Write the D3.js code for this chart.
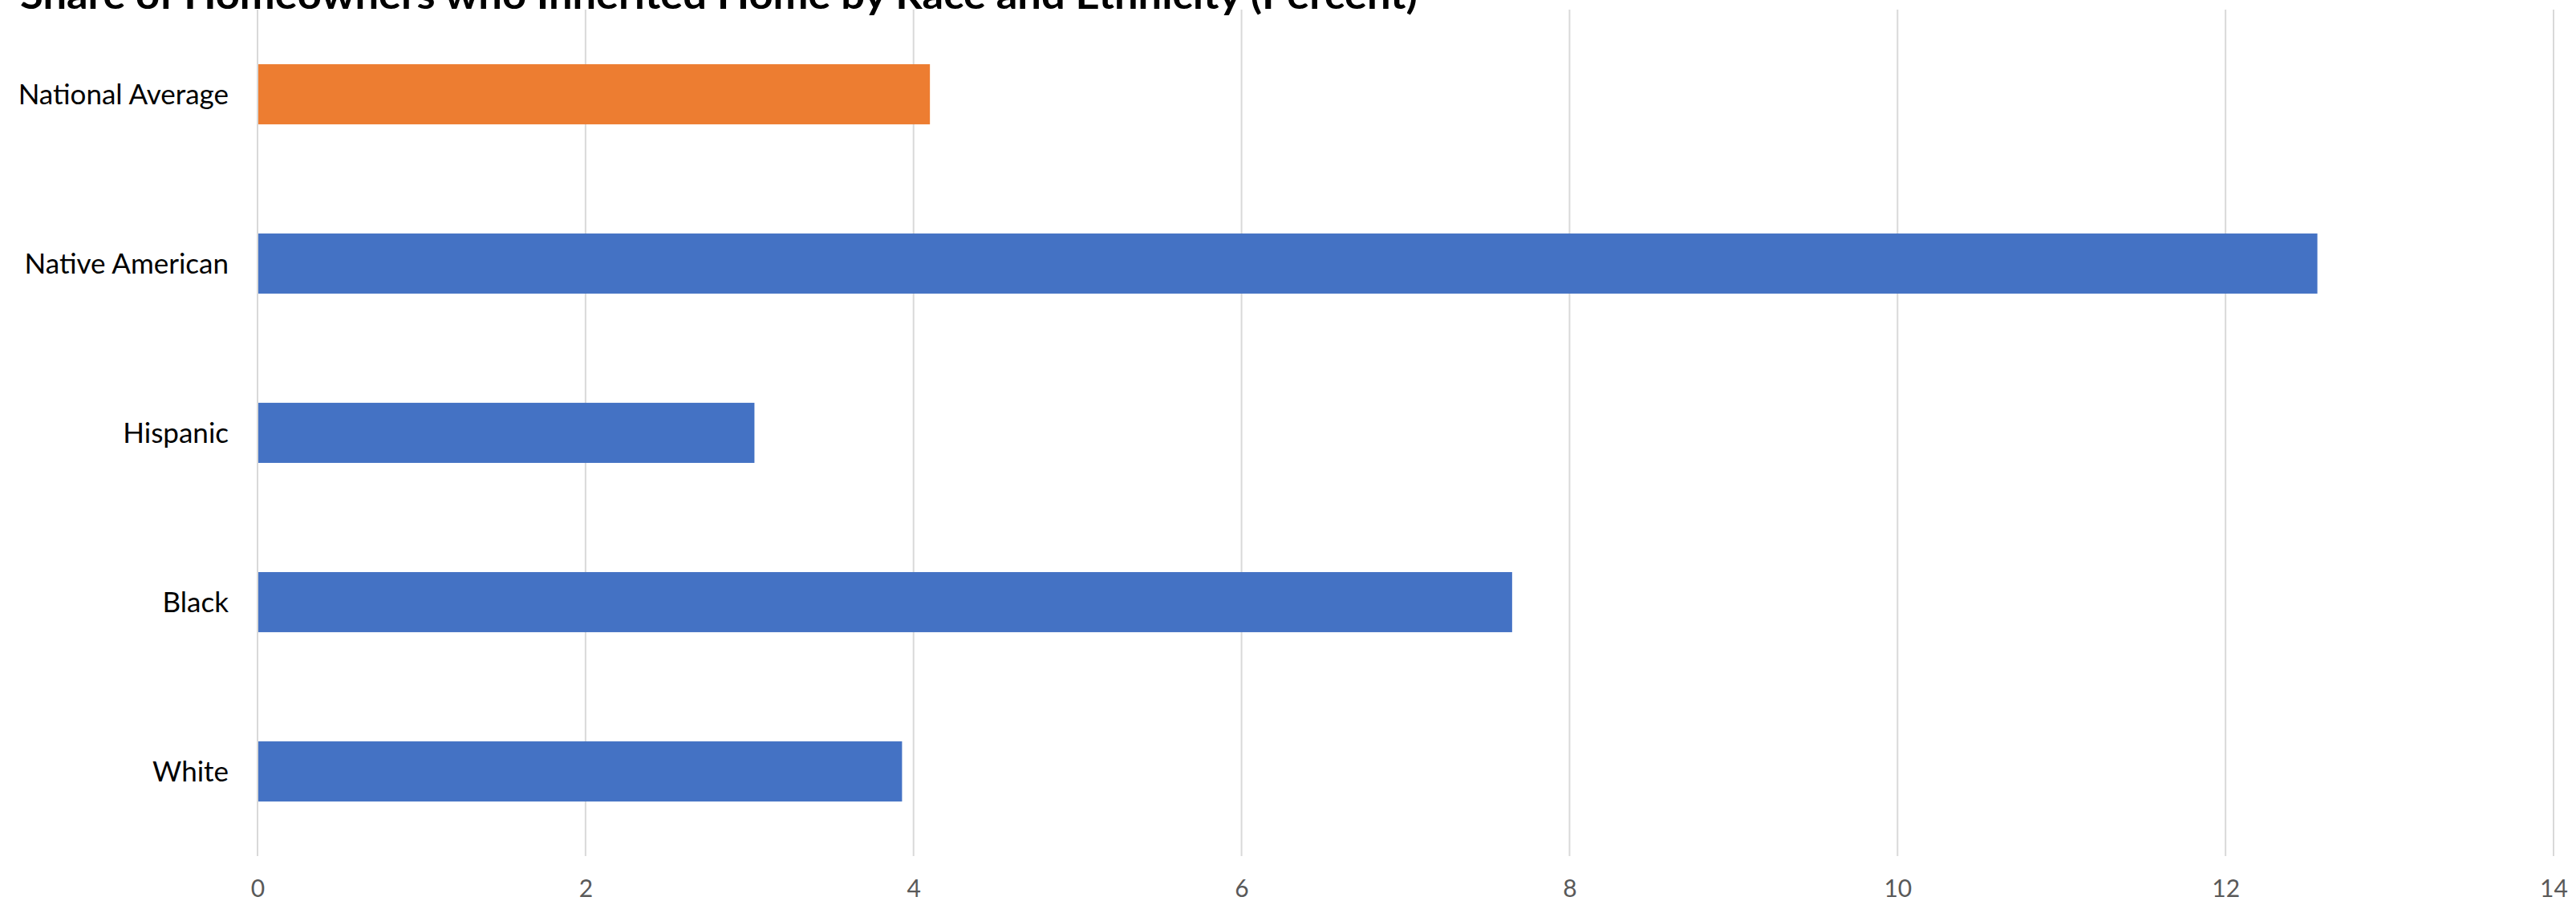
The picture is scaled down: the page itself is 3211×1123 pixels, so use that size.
<!DOCTYPE html>
<html>
<head>
<meta charset="utf-8">
<script src="https://cdn.jsdelivr.net/npm/d3@7"></script>
<style>
  html, body { margin: 0; padding: 0; background: #fff; }
  svg { display: block; }
</style>
</head>
<body>
<svg id="chart" width="3211" height="1123"></svg>
<script>
// Share of homeowners who inherited their home, by race and ethnicity (percent)
const categories = ["National Average", "Native American", "Hispanic", "Black", "White"];
const values = [4.1, 12.56, 3.03, 7.65, 3.93];
const highlight = ["National Average"];
const xTicks = [0, 2, 4, 6, 8, 10, 12, 14];
const title = "Share of Homeowners who Inherited Home by Race and Ethnicity (Percent)";

const W = 3211, H = 1123;
const margin = { top: 12, right: 28, bottom: 56, left: 321 };

const svg = d3.select("#chart");

const x = d3.scaleLinear()
  .domain([0, 14])
  .range([margin.left, W - margin.right]);

const y = d3.scaleBand()
  .domain(categories)
  .range([margin.top, H - margin.bottom])
  .paddingInner(0.645)
  .paddingOuter(0.3225);

// vertical gridlines
svg.append("g")
  .selectAll("line")
  .data(xTicks)
  .join("line")
  .attr("x1", d => x(d))
  .attr("x2", d => x(d))
  .attr("y1", margin.top)
  .attr("y2", H - margin.bottom)
  .attr("stroke", "#d9d9d9")
  .attr("stroke-width", 2);

// bars
svg.append("g")
  .selectAll("rect")
  .data(categories.map((c, i) => ({ c, v: values[i] })))
  .join("rect")
  .attr("x", x(0) + 1)
  .attr("y", d => y(d.c))
  .attr("width", d => x(d.v) - x(0) - 1)
  .attr("height", y.bandwidth())
  .attr("fill", d => highlight.includes(d.c) ? "#ED7D31" : "#4472C4");

// category labels
svg.append("g")
  .selectAll("text")
  .data(categories)
  .join("text")
  .attr("x", margin.left - 36)
  .attr("y", d => y(d) + y.bandwidth() / 2)
  .attr("dy", "0.35em")
  .attr("text-anchor", "end")
  .attr("font-family", "Lato, 'Open Sans', sans-serif")
  .attr("font-size", 35)
  .attr("fill", "#000")
  .text(d => d);

// x-axis tick labels
const xAxis = d3.axisBottom(x)
  .tickValues(xTicks)
  .tickSize(0)
  .tickPadding(0)
  .tickFormat(d3.format("d"));

const gx = svg.append("g")
  .attr("transform", `translate(0, ${H - margin.bottom})`)
  .call(xAxis);
gx.select(".domain").remove();
gx.selectAll("text")
  .attr("y", 51)
  .attr("dy", 0)
  .attr("font-family", "Lato, 'Open Sans', sans-serif")
  .attr("font-size", 30)
  .attr("fill", "#595959");

// chart title
svg.append("text")
  .attr("x", 25)
  .attr("y", 11)
  .attr("font-family", "Lato, 'Open Sans', sans-serif")
  .attr("font-weight", "bold")
  .attr("font-size", 48)
  .attr("fill", "#000")
  .attr("textLength", 1742)
  .attr("lengthAdjust", "spacingAndGlyphs")
  .text(title);
</script>
</body>
</html>
